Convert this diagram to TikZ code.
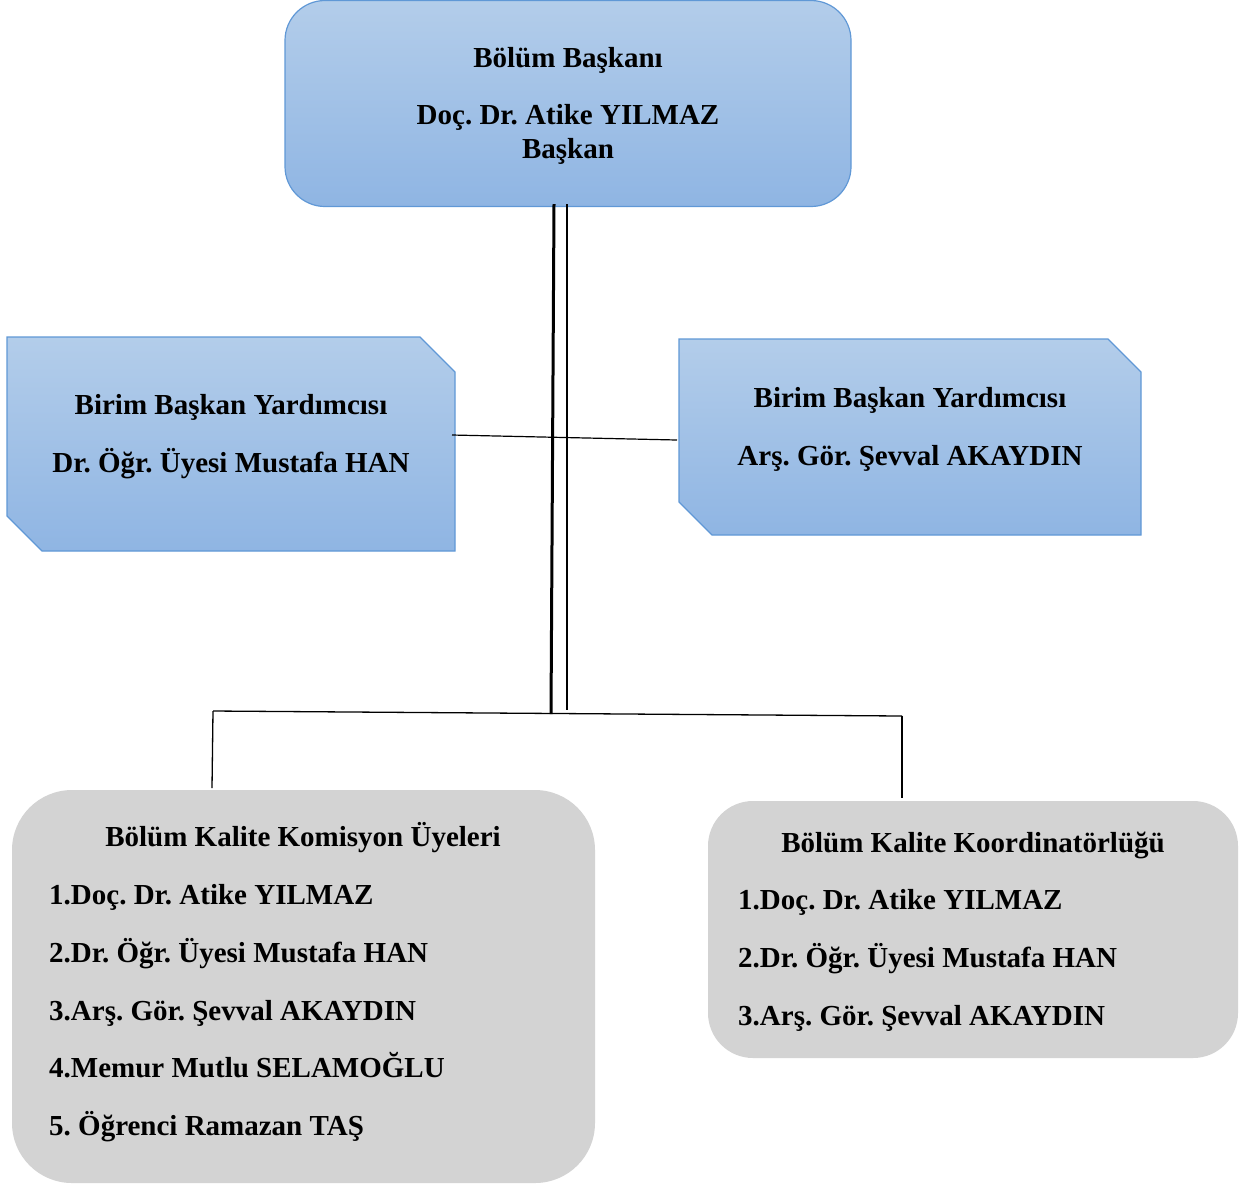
\documentclass[tikz,border=0pt]{standalone}
\usepackage{fontspec}
\setmainfont{Liberation Serif}
\frenchspacing
\definecolor{bluetop}{RGB}{179,205,234}
\definecolor{bluebot}{RGB}{143,181,227}
\definecolor{blueline}{RGB}{96,152,214}
\definecolor{grayfill}{RGB}{211,211,211}
\begin{document}
\begin{tikzpicture}[x=1pt,y=-1pt,
  bluebox/.style={draw=blueline, line width=1.2pt, top color=bluetop, bottom color=bluebot, inner sep=0pt},
  headbox/.style={bluebox, rectangle, rounded corners=40pt},
  graybox/.style={fill=grayfill, draw=none, rectangle, inner sep=0pt},
  txt/.style={font=\fontsize{29}{34}\selectfont\bfseries\frenchspacing, inner sep=0pt},
  conn/.style={draw=black, line width=1.3pt},
  thickconn/.style={draw=black, line width=3pt}]
\useasboundingbox (0,0) rectangle (1252,1187);

% boxes
\node[headbox, minimum width=566pt, minimum height=206pt] (head) at (568,103.5) {};
% snipped-corner boxes
\draw[bluebox] (7,337) -- (420,337) -- (455,372) -- (455,551) -- (42,551) -- (7,516) -- cycle;
\coordinate (lb) at (231,444);
\draw[bluebox] (679,339) -- (1108,339) -- (1141,372) -- (1141,535) -- (712,535) -- (679,502) -- cycle;
\coordinate (rb) at (910,437);
\node[graybox, rounded corners=60pt, minimum width=583pt, minimum height=393pt] (lk) at (303.5,986.5) {};
\node[graybox, rounded corners=45pt, minimum width=530pt, minimum height=257pt] (rk) at (973,929.5) {};

% texts
\node[txt, anchor=base] (h1) at (568,67) {Bölüm Başkanı};
\node[txt, anchor=base] (h2) at (568,124) {Doç. Dr. Atike YILMAZ};
\node[txt, anchor=base] (h3) at (568,158) {Başkan};

\node[txt, anchor=base] (l1) at (231,414) {Birim Başkan Yardımcısı};
\node[txt, anchor=base] (l2) at (231,472) {Dr. Öğr. Üyesi Mustafa HAN};

\node[txt, anchor=base] (r1) at (910,407) {Birim Başkan Yardımcısı};
\node[txt, anchor=base] (r2) at (910,465) {Arş. Gör. Şevval AKAYDIN};

\node[txt, anchor=base] (k0) at (303,846) {Bölüm Kalite Komisyon Üyeleri};
\node[txt, anchor=base west] (k1) at (49,904) {1.Doç. Dr. Atike YILMAZ};
\node[txt, anchor=base west] (k2) at (49,962) {2.Dr. Öğr. Üyesi Mustafa HAN};
\node[txt, anchor=base west] (k3) at (49,1020) {3.Arş. Gör. Şevval AKAYDIN};
\node[txt, anchor=base west] (k4) at (49,1077) {4.Memur Mutlu SELAMOĞLU};
\node[txt, anchor=base west] (k5) at (49,1135) {5. Öğrenci Ramazan TAŞ};

\node[txt, anchor=base] (c0) at (973,852) {Bölüm Kalite Koordinatörlüğü};
\node[txt, anchor=base west] (c1) at (738,909) {1.Doç. Dr. Atike YILMAZ};
\node[txt, anchor=base west] (c2) at (738,967) {2.Dr. Öğr. Üyesi Mustafa HAN};
\node[txt, anchor=base west] (c3) at (738,1025) {3.Arş. Gör. Şevval AKAYDIN};

% connector points
\coordinate (tA) at (554,204);
\coordinate (tB) at (567,204);
\coordinate (jm) at (551,714);
\coordinate (jt) at (567,710);
\coordinate (hl) at (452,435);
\coordinate (hr) at (677,440);
\coordinate (bl) at (213,711);
\coordinate (br) at (902,716);
\coordinate (blE) at (212,788);
\coordinate (brE) at (902,798);

% connectors
\draw[thickconn] (tA) -- (jm);
\draw[conn, line width=1.5pt] (tB) -- (jt);
\draw[conn, line width=1.2pt] (hl) -- (hr);
\draw[conn] (bl) -- (br);
\draw[conn] (bl) -- (blE);
\draw[conn] (br) -- (brE);
\end{tikzpicture}
\end{document}
